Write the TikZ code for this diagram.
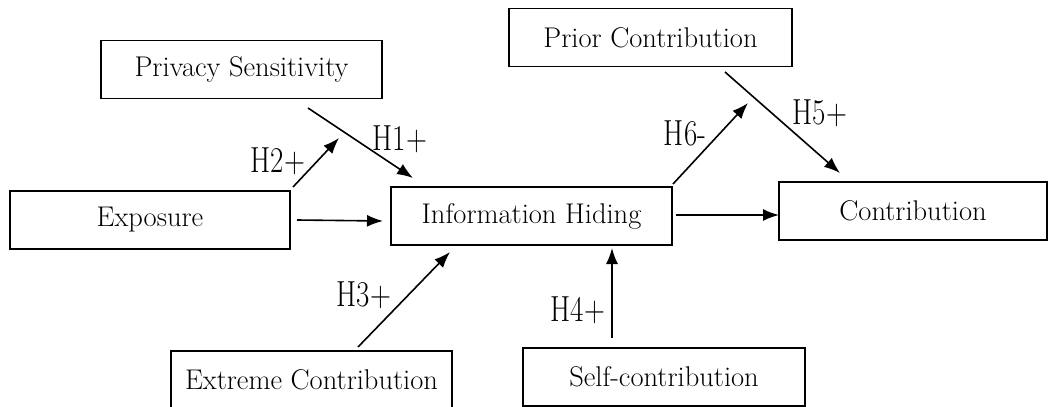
\documentclass[tikz,border=0pt]{standalone}
\usepackage{fontspec}
\usepackage{graphicx}
\usetikzlibrary{arrows.meta}
\newcommand{\tallab}[1]{\scalebox{1}[1.25]{#1}}
\begin{document}
\begin{tikzpicture}[x=1pt,y=-1pt,
  box/.style={draw,line width=1.5pt,minimum width=#1,minimum height=58pt,inner sep=0pt,
    font=\fontsize{28.5}{33}\selectfont},
  box/.default=281pt,
  arr/.style={line width=1.6pt,-{Latex[length=16pt,width=12pt]}},
  lbl/.style={font=\fontsize{29}{33}\selectfont,inner sep=0pt}]
\useasboundingbox (0,0) rectangle (1050,407);
\node[box] (ps) at (241.5,69.5) {Privacy Sensitivity};
\node[box=280pt] (ex) at (150,220) {Exposure};
\node[box] (ih) at (531.5,216) {Information Hiding};
\node[box=283pt] (pc) at (650.5,37.5) {Prior Contribution};
\node[box=268pt] (co) at (913,211) {Contribution};
\node[box] (ec) at (311.5,380) {Extreme Contribution};
\node[box=282pt] (sc) at (664,377) {Self-contribution};
% connector end points
\coordinate (ps1) at (308,108);
\coordinate (ih1) at (413,178);
\coordinate (ex1) at (293,187);
\coordinate (m1) at (339,138);
\coordinate (ex2) at (297,220);
\coordinate (ih2) at (383,221);
\coordinate (ih3) at (676,215);
\coordinate (co1) at (779,215);
\coordinate (ih4) at (673,184);
\coordinate (m2) at (748,103);
\coordinate (pc1) at (725,72);
\coordinate (co2) at (840,173);
\coordinate (ec1) at (358,347);
\coordinate (ih5) at (450,252);
\coordinate (sc1) at (612,338);
\coordinate (ih6) at (612,248);
\draw[arr] (ps1) -- (ih1);
\draw[arr] (ex1) -- (m1);
\draw[arr] (ex2) -- (ih2);
\draw[arr] (ih3) -- (co1);
\draw[arr] (ih4) -- (m2);
\draw[arr] (pc1) -- (co2);
\draw[arr] (ec1) -- (ih5);
\draw[arr] (sc1) -- (ih6);
\node[lbl] (h1) at (400,139) {\tallab{H1+}};
\node[lbl] (h2) at (278,161) {\tallab{H2+}};
\node[lbl] (h6) at (685,133) {\tallab{H6-}};
\node[lbl] (h5) at (820,113) {\tallab{H5+}};
\node[lbl] (h3) at (364,295) {\tallab{H3+}};
\node[lbl] (h4) at (578,310) {\tallab{H4+}};
\end{tikzpicture}
\end{document}
